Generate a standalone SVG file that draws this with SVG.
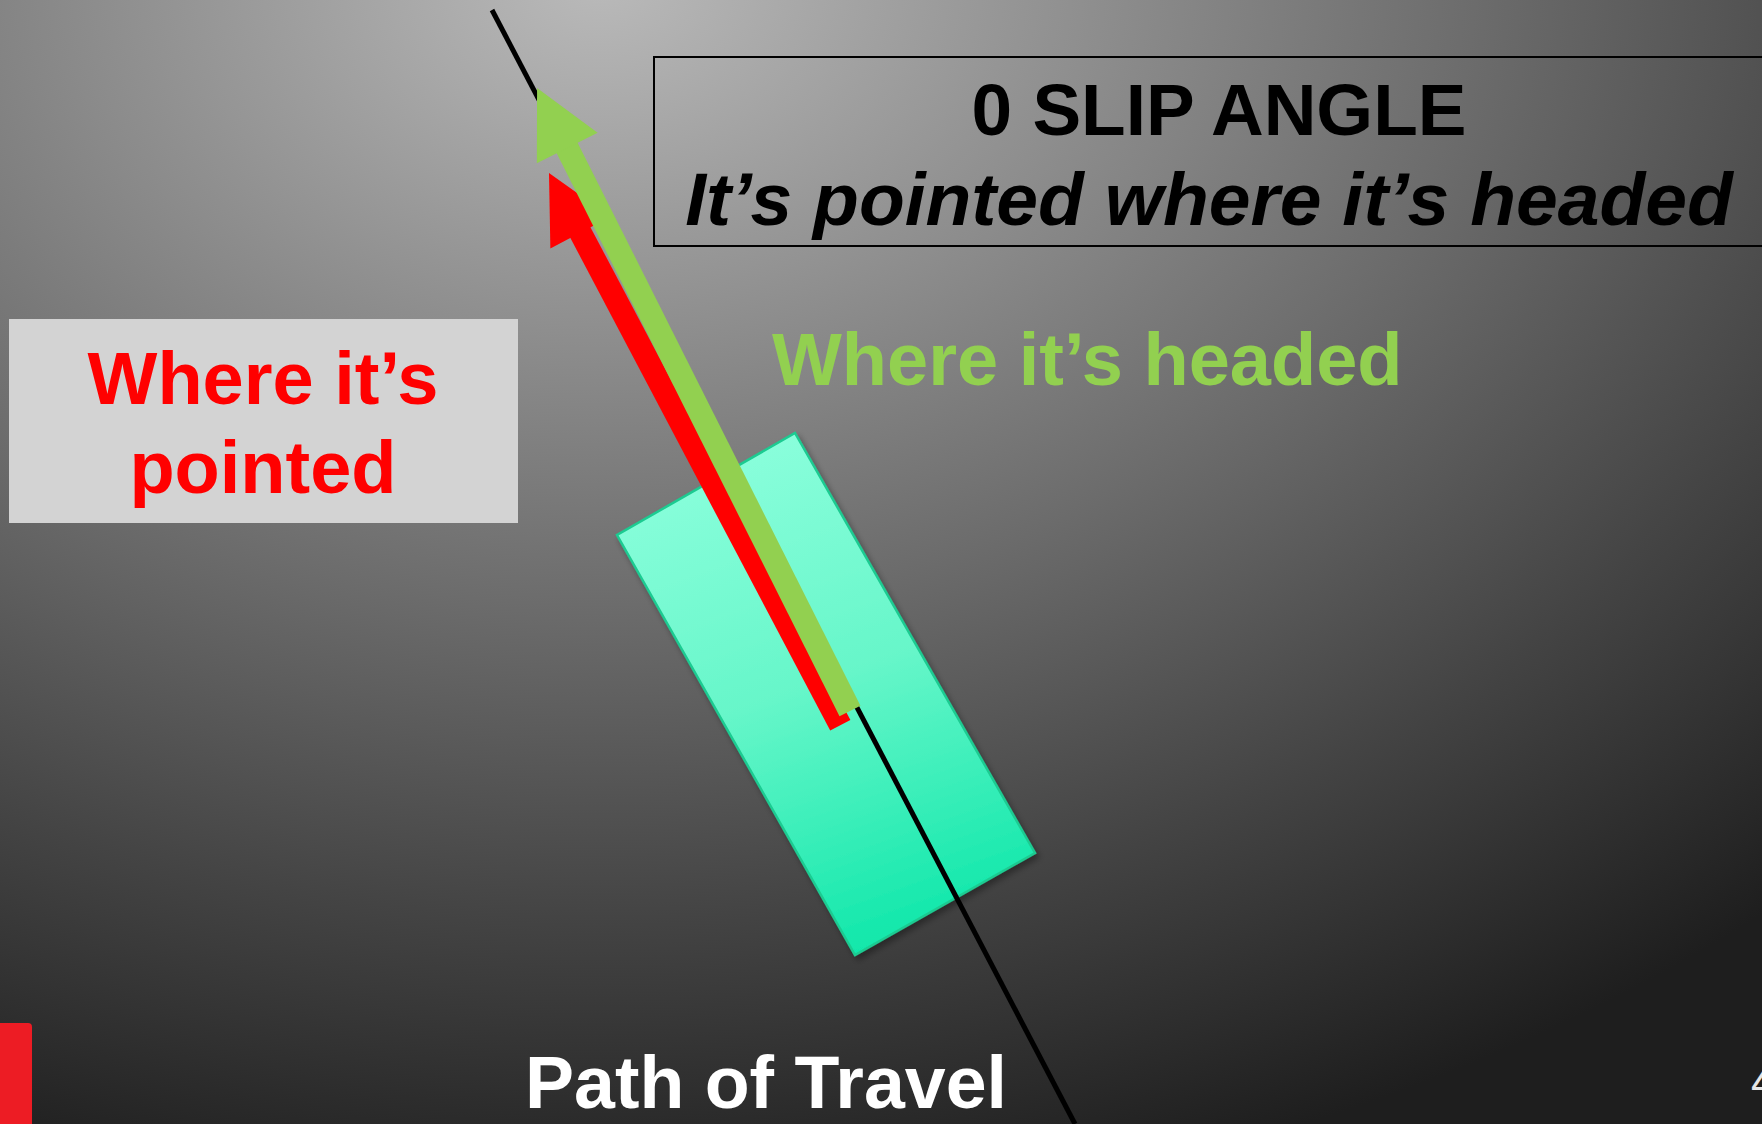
<svg xmlns="http://www.w3.org/2000/svg" width="1762" height="1124" viewBox="0 0 1762 1124">
  <defs>
    <radialGradient id="bg" gradientUnits="userSpaceOnUse" cx="0" cy="0" r="1" gradientTransform="translate(600,-20) scale(1750,1250)">
      <stop offset="0" stop-color="#bababa"/>
      <stop offset="0.25" stop-color="#939393"/>
      <stop offset="0.5" stop-color="#6c6c6c"/>
      <stop offset="0.75" stop-color="#444444"/>
      <stop offset="1" stop-color="#1e1e1e"/>
    </radialGradient>
    <linearGradient id="carFill" gradientUnits="userSpaceOnUse" x1="700" y1="440" x2="880" y2="950">
      <stop offset="0" stop-color="#8dffdd"/>
      <stop offset="0.5" stop-color="#66f6c9"/>
      <stop offset="1" stop-color="#0fe7aa"/>
    </linearGradient>
    <filter id="shadow" x="-10%" y="-10%" width="130%" height="130%">
      <feDropShadow dx="3" dy="4" stdDeviation="3" flood-color="#000" flood-opacity="0.35"/>
    </filter>
    <style>
      .t { font-family: "Liberation Sans", Arial, sans-serif; font-weight: bold; }
    </style>
  </defs>

  <rect x="0" y="0" width="1762" height="1124" fill="url(#bg)"/>

  <g id="title">
    <rect x="654" y="57" width="1120" height="189" fill="none" stroke="#000" stroke-width="2"/>
    <text class="t" x="1219" y="135" font-size="73" text-anchor="middle" fill="#000">0 SLIP ANGLE</text>
    <text class="t" x="1209" y="225" font-size="75" font-style="italic" text-anchor="middle" fill="#000">It’s pointed where it’s headed</text>
  </g>

  <g id="pointed-label">
    <rect x="9" y="319" width="509" height="204" fill="#d3d3d3"/>
    <text class="t" x="263" y="404" font-size="74" text-anchor="middle" fill="#ff0000">Where it’s</text>
    <text class="t" x="263" y="493" font-size="74" text-anchor="middle" fill="#ff0000">pointed</text>
  </g>

  <g id="headed-label">
    <text class="t" x="772" y="385" font-size="74" fill="#92d050">Where it’s headed</text>
  </g>

  <g id="car">
    <polygon points="795,433 1035,853 855,955 617,535" fill="url(#carFill)" stroke="#1ccb91" stroke-width="2.5" filter="url(#shadow)"/>
  </g>

  <g id="connectors">
    <line x1="492" y1="10" x2="1075" y2="1124" stroke="#000" stroke-width="5"/>
    <g transform="translate(840.3,725.3) rotate(-117.81)" fill="#ff0000">
      <rect x="0" y="-11.4" width="558" height="22.8"/>
      <polygon points="557,-34 624.4,0 557,34"/>
    </g>
    <g transform="translate(850,711) rotate(-116.67)" fill="#92d050">
      <rect x="0" y="-11.7" width="631" height="23.4"/>
      <polygon points="630,-34 697.2,0 630,34"/>
    </g>
  </g>

  <g id="path-label">
    <text class="t" x="766" y="1108" font-size="73.5" text-anchor="middle" fill="#ffffff">Path of Travel</text>
  </g>

  <g id="page-mark">
    <path d="M0,1023 H28 Q32,1023 32,1027 V1124 H0 Z" fill="#ed1c24"/>
    <text x="1751" y="1097" font-family="Liberation Sans, Arial, sans-serif" font-size="44" fill="#e6e6e6">4</text>
  </g>
</svg>
